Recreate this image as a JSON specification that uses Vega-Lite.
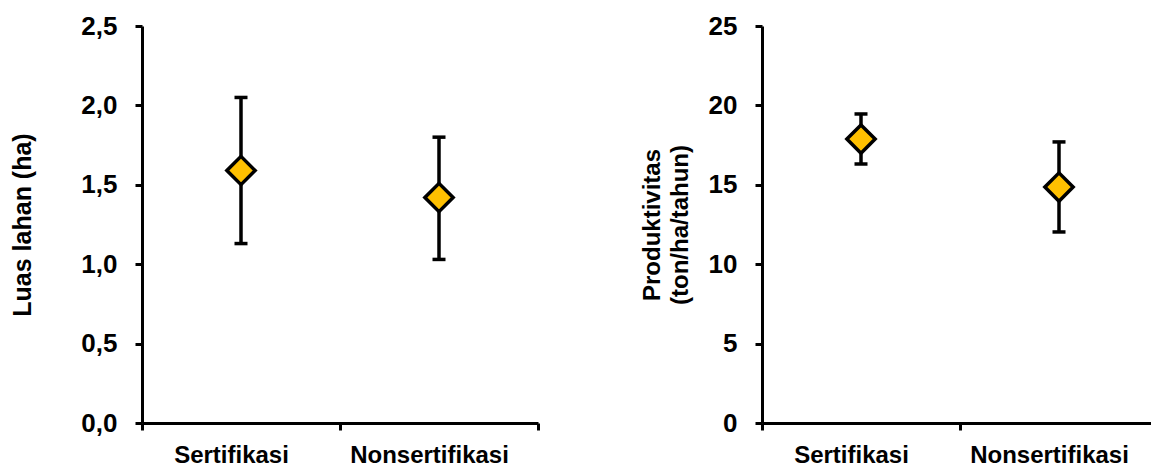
{
  "$schema": "https://vega.github.io/schema/vega-lite/v6.json",
  "background": "white",
  "padding": {"left": 10, "top": 13, "right": 0, "bottom": 0},
  "spacing": 100,
  "config": {
    "view": {"stroke": null},
    "font": "Liberation Sans",
    "axis": {
      "domainColor": "black",
      "domainWidth": 3,
      "tickColor": "black",
      "tickWidth": 3,
      "tickSize": 7,
      "labelColor": "black",
      "labelFontWeight": "bold",
      "titleColor": "black",
      "titleFontWeight": "bold",
      "grid": false
    }
  },
  "hconcat": [
    {
      "width": 396,
      "height": 397,
      "data": {"values": [
        {"group": "Sertifikasi", "mean": 1.59, "lo": 1.13, "hi": 2.05},
        {"group": "Nonsertifikasi", "mean": 1.42, "lo": 1.03, "hi": 1.80}
      ]},
      "encoding": {
        "x": {
          "field": "group", "type": "nominal",
          "sort": ["Sertifikasi", "Nonsertifikasi"],
          "scale": {"paddingInner": 0, "paddingOuter": 0},
          "axis": {"title": null, "labelAngle": 0, "tickBand": "extent", "labelFontSize": 24, "labelPadding": 13, "labelOffset": -10}
        }
      },
      "layer": [
        {
          "mark": {"type": "rule", "strokeWidth": 3.5, "color": "black"},
          "encoding": {
            "y": {"field": "lo", "type": "quantitative", "scale": {"domain": [0, 2.5], "nice": false, "zero": true},
              "axis": {"title": "Luas lahan (ha)", "values": [0, 0.5, 1, 1.5, 2, 2.5],
                "labelExpr": "replace(format(datum.value, '.1f'), '.', ',')",
                "labelFontSize": 26, "labelPadding": 18, "titleFontSize": 25, "titlePadding": 45}},
            "y2": {"field": "hi"}
          }
        },
        {
          "mark": {"type": "tick", "orient": "horizontal", "size": 13, "thickness": 3.5, "color": "black", "opacity": 1},
          "encoding": {"y": {"field": "lo", "type": "quantitative"}}
        },
        {
          "mark": {"type": "tick", "orient": "horizontal", "size": 13, "thickness": 3.5, "color": "black", "opacity": 1},
          "encoding": {"y": {"field": "hi", "type": "quantitative"}}
        },
        {
          "mark": {"type": "point", "shape": "diamond", "filled": true, "fill": "#FFC000", "stroke": "black", "strokeWidth": 3.5, "size": 800, "opacity": 1},
          "encoding": {"y": {"field": "mean", "type": "quantitative"}}
        }
      ]
    },
    {
      "width": 396,
      "height": 397,
      "data": {"values": [
        {"group": "Sertifikasi", "mean": 17.88, "lo": 16.31, "hi": 19.46},
        {"group": "Nonsertifikasi", "mean": 14.86, "lo": 12.03, "hi": 17.70}
      ]},
      "encoding": {
        "x": {
          "field": "group", "type": "nominal",
          "sort": ["Sertifikasi", "Nonsertifikasi"],
          "scale": {"paddingInner": 0, "paddingOuter": 0},
          "axis": {"title": null, "labelAngle": 0, "tickBand": "extent", "labelFontSize": 24, "labelPadding": 13, "labelOffset": -10}
        }
      },
      "layer": [
        {
          "mark": {"type": "rule", "strokeWidth": 3.5, "color": "black"},
          "encoding": {
            "y": {"field": "lo", "type": "quantitative", "scale": {"domain": [0, 25], "nice": false, "zero": true},
              "axis": {"title": ["Produktivitas", "(ton/ha/tahun)"], "values": [0, 5, 10, 15, 20, 25],
                "labelFontSize": 26, "labelPadding": 18, "titleFontSize": 24, "titleLineHeight": 28, "titlePadding": 16}},
            "y2": {"field": "hi"}
          }
        },
        {
          "mark": {"type": "tick", "orient": "horizontal", "size": 13, "thickness": 3.5, "color": "black", "opacity": 1},
          "encoding": {"y": {"field": "lo", "type": "quantitative"}}
        },
        {
          "mark": {"type": "tick", "orient": "horizontal", "size": 13, "thickness": 3.5, "color": "black", "opacity": 1},
          "encoding": {"y": {"field": "hi", "type": "quantitative"}}
        },
        {
          "mark": {"type": "point", "shape": "diamond", "filled": true, "fill": "#FFC000", "stroke": "black", "strokeWidth": 3.5, "size": 800, "opacity": 1},
          "encoding": {"y": {"field": "mean", "type": "quantitative"}}
        }
      ]
    }
  ]
}
